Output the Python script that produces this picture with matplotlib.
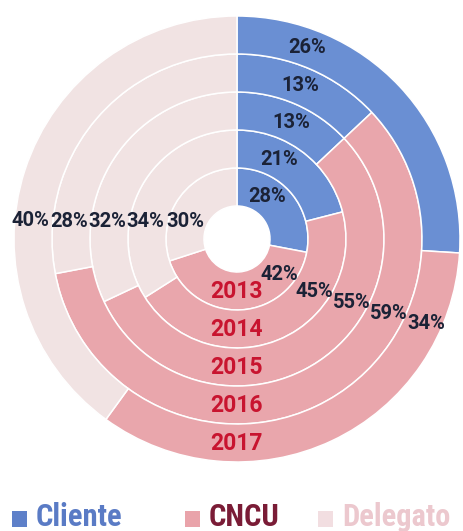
import numpy as np
import matplotlib
matplotlib.use("Agg")
import matplotlib.pyplot as plt
from matplotlib.patches import Rectangle

# Shares per year (innermost ring = first year)
years = ["2013", "2014", "2015", "2016", "2017"]
cliente = [28, 21, 13, 13, 26]
cncu = [42, 45, 55, 59, 34]
delegato = [30, 34, 32, 28, 40]
categories = ["Cliente", "CNCU", "Delegato"]

# Styling
fill_colors = ["#6a8fd3", "#e9a6ac", "#f1e3e3"]
legend_square_colors = ["#5e80c9", "#e9a3aa", "#f2dee1"]
legend_text_colors = ["#5a7bc5", "#7a1c36", "#ecc8ce"]
year_color = "#c8142f"
pct_color = "#1b2236"
font = ["Roboto", "DejaVu Sans"]
legend_font = ["Roboto Condensed", "Roboto", "DejaVu Sans"]

W, H = 464, 531
fig = plt.figure(figsize=(W / 100, H / 100), dpi=100)
ax = fig.add_axes([0, 0, 1, 1])
ax.set_xlim(0, W)
ax.set_ylim(0, H)
ax.set_aspect("equal")
ax.axis("off")

cx, cy = 237, H - 239
hole = 33
ring_w = 38

# Concentric rings, one per year
for i, yr in enumerate(years):
    outer = hole + (i + 1) * ring_w
    ax.pie([cliente[i], cncu[i], delegato[i]], colors=fill_colors,
           radius=outer, center=(cx, cy), startangle=90, counterclock=False,
           wedgeprops=dict(width=ring_w, edgecolor="white", linewidth=1.1))
ax.set_xlim(0, W)
ax.set_ylim(0, H)

# Label angles (degrees, counter-clockwise from 3 o'clock)
cliente_ang = [55, 62, 65, 67.5, 70]
cncu_ang = [-40, -34, -29, -26, -24]


def at(r, ang):
    a = np.deg2rad(ang)
    return cx + r * np.cos(a), cy + r * np.sin(a)


pct_kw = dict(ha="center", va="center", fontsize=14.5, fontweight=600,
              color=pct_color, family=font)

for i, yr in enumerate(years):
    mid = hole + i * ring_w + ring_w / 2
    x, y = at(mid, cliente_ang[i])
    ax.text(x, y, f"{cliente[i]}%", **pct_kw)
    x, y = at(mid + 3, cncu_ang[i])
    ax.text(x, y, f"{cncu[i]}%", **pct_kw)
    r = mid + 3
    ang = 180 - np.rad2deg(np.arcsin(18 / r))
    x, y = at(r, ang)
    ax.text(x, y, f"{delegato[i]}%", **pct_kw)
    x, y = at(mid, -90)
    ax.text(x, y, yr, ha="center", va="center", fontsize=16.5,
            fontweight="bold", color=year_color, family=font)

# Legend row
legend_x = [12, 185, 318]
for k, name in enumerate(categories):
    ax.add_patch(Rectangle((legend_x[k], H - 527), 15, 16,
                           facecolor=legend_square_colors[k], edgecolor="none"))
    ax.text(legend_x[k] + 24, H - 526, name, ha="left", va="baseline",
            fontsize=22, fontweight="bold", color=legend_text_colors[k],
            family=legend_font)

fig.savefig("out.png", dpi=100)
